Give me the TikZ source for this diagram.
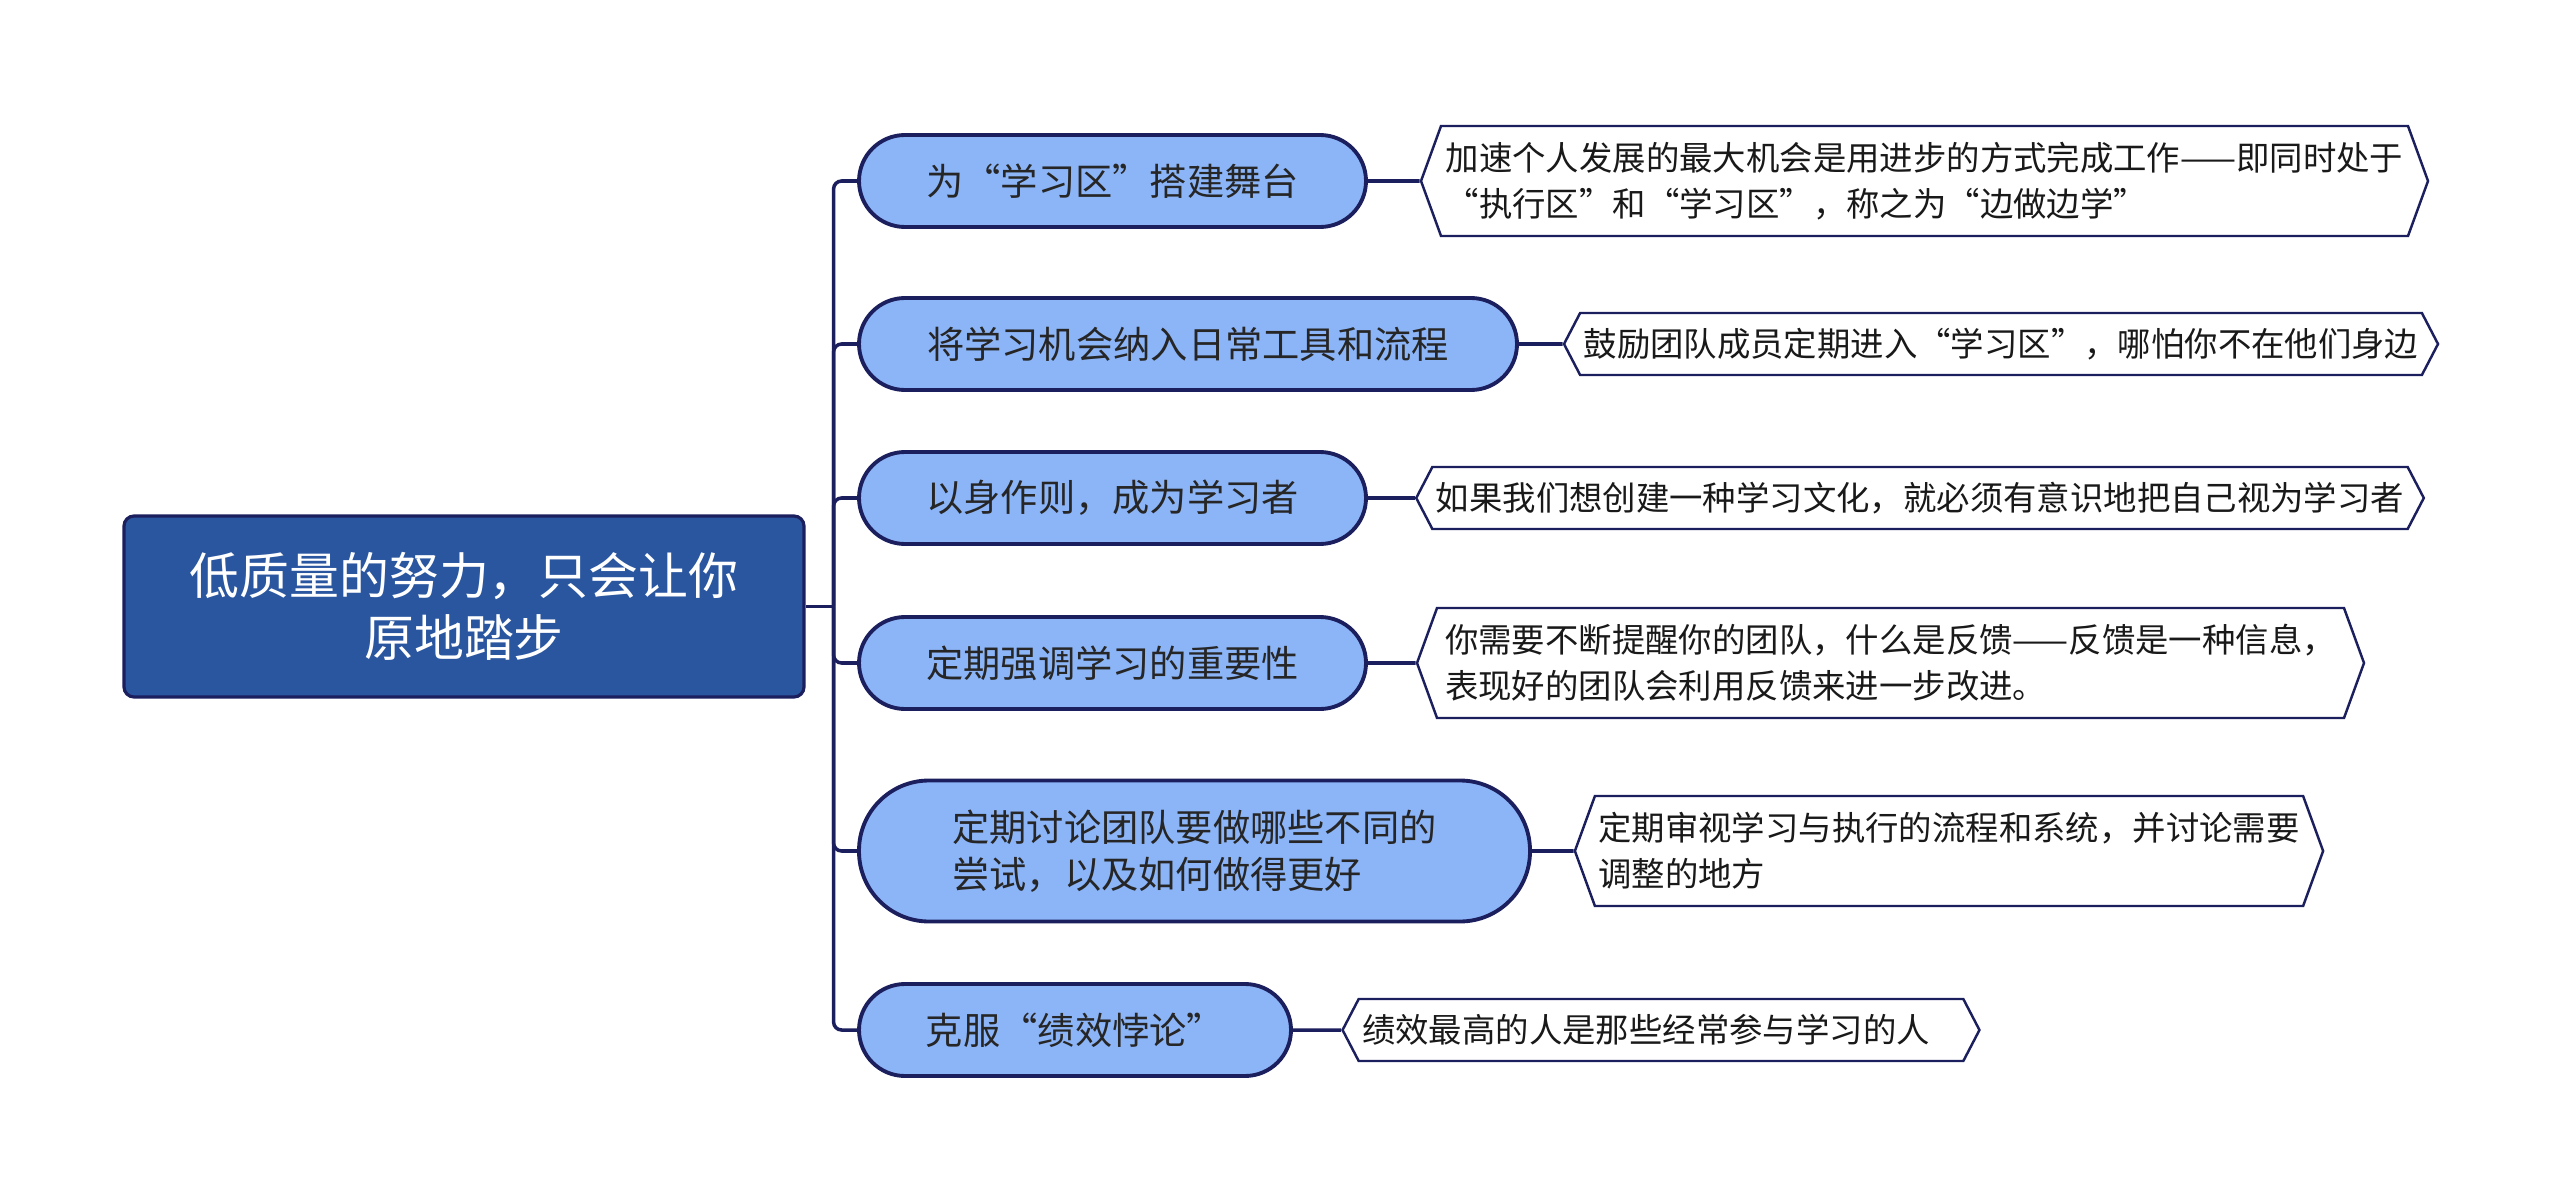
\documentclass[tikz,border=0pt]{standalone}
\usepackage{fontspec}
\setmainfont{Noto Sans CJK SC}
\usetikzlibrary{shapes.symbols}
\definecolor{navy}{HTML}{1C1F5E}
\definecolor{rootblue}{HTML}{2A56A0}
\definecolor{branchblue}{HTML}{8CB5F8}
\tikzset{
  rootbox/.style={draw=navy, line width=0.9pt, fill=rootblue, rounded corners=0.1cm,
    text=white, align=center, minimum width=6.8cm, minimum height=1.81cm,
    font=\fontsize{14.2pt}{17.6pt}\selectfont},
  branch/.style={draw=navy, line width=1.1pt, fill=branchblue, rounded corners=0.46cm,
    minimum height=0.92cm, align=left, text=black!85,
    font=\fontsize{10.6pt}{13.4pt}\selectfont},
  leaf/.style={draw=navy, line width=0.7pt, fill=white, signal, signal to=west and east,
    signal pointer angle=125, inner xsep=1pt, align=left, minimum height=0.62cm,
    text=black!90, font=\fontsize{9.5pt}{13pt}\selectfont},
  tall/.style={signal pointer angle=140, minimum height=1.1cm},
  link/.style={draw=navy, line width=1pt},
}
\begin{document}
\begin{tikzpicture}
\useasboundingbox (0,0) rectangle (25.6,-12.01);

\node[rootbox] (root) at (4.64,-6.065) {低质量的努力，只会让你\\原地踏步};

\node[branch, minimum width=5.07cm] (stage) at (11.125,-1.81) {为“学习区”搭建舞台};
\node[branch, minimum width=6.58cm] (tools) at (11.88,-3.44) {将学习机会纳入日常工具和流程};
\node[branch, minimum width=5.07cm] (model) at (11.125,-4.98) {以身作则，成为学习者};
\node[branch, minimum width=5.07cm] (stress) at (11.125,-6.63) {定期强调学习的重要性};
\node[branch, minimum width=6.71cm, minimum height=1.41cm, rounded corners=0.7cm] (discuss) at (11.945,-8.51) {定期讨论团队要做哪些不同的\\尝试，以及如何做得更好};
\node[branch, minimum width=4.32cm] (paradox) at (10.75,-10.30) {克服“绩效悖论”};

\node[leaf, tall, minimum width=10.07cm] (stageleaf) at (19.245,-1.81) {加速个人发展的最大机会是用进步的方式完成工作——即同时处于\\“执行区”和“学习区”，称之为“边做边学”};
\node[leaf, minimum width=8.74cm] (toolsleaf) at (20.01,-3.44) {鼓励团队成员定期进入“学习区”，哪怕你不在他们身边};
\node[leaf, minimum width=10.06cm] (modelleaf) at (19.20,-4.98) {如果我们想创建一种学习文化，就必须有意识地把自己视为学习者};
\node[leaf, tall, minimum width=9.47cm] (stressleaf) at (18.905,-6.63) {你需要不断提醒你的团队，什么是反馈——反馈是一种信息，\\表现好的团队会利用反馈来进一步改进。};
\node[leaf, tall, minimum width=7.38cm] (discussleaf) at (19.49,-8.51) {定期审视学习与执行的流程和系统，并讨论需要\\调整的地方};
\node[leaf, minimum width=6.32cm] (paradoxleaf) at (16.61,-10.30) {绩效最高的人是那些经常参与学习的人\hspace{0.3cm}};

\path (root.east) ++(0.28,0) coordinate (hub);
\draw[link] (root) -- (hub);
\foreach \b in {stage,tools,model,stress,discuss,paradox}
  \draw[link, rounded corners=0.08cm] (hub) |- (\b.west);

\draw[link] (stage) -- (stageleaf);
\draw[link] (tools) -- (toolsleaf);
\draw[link] (model) -- (modelleaf);
\draw[link] (stress) -- (stressleaf);
\draw[link] (discuss) -- (discussleaf);
\draw[link] (paradox) -- (paradoxleaf);
\end{tikzpicture}
\end{document}
